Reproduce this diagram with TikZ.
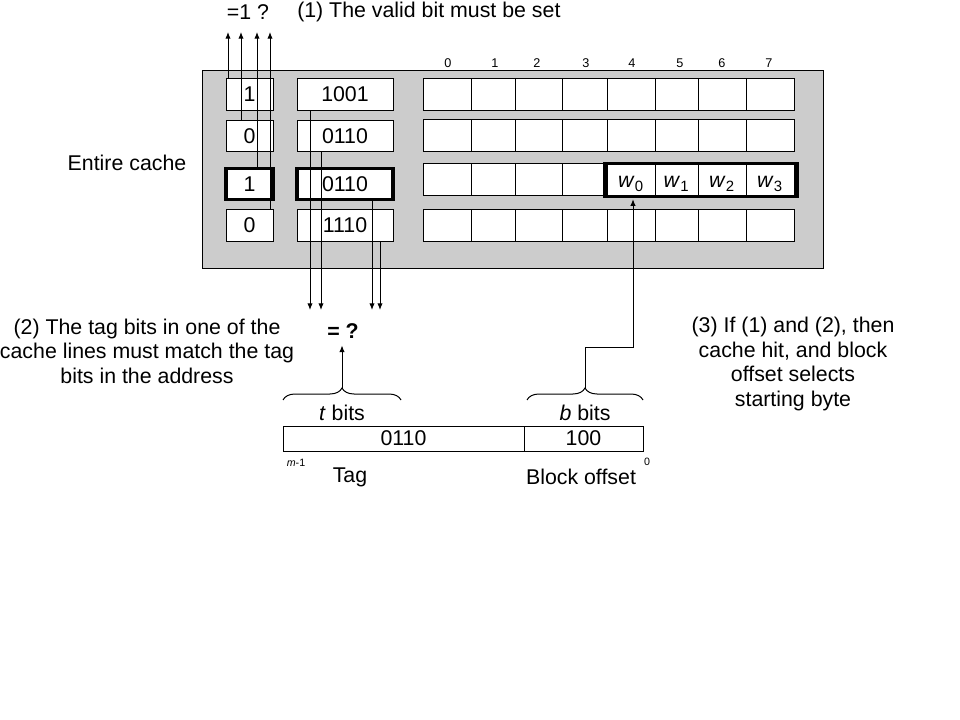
\documentclass[tikz,border=0pt]{standalone}
\usepackage{fontspec}
\setmainfont{Liberation Sans}
\usetikzlibrary{arrows.meta,decorations.pathreplacing}
\definecolor{cachegray}{RGB}{204,204,204}

\begin{document}
\begin{tikzpicture}[x=0.75pt,y=-0.75pt,
    lbl/.style={font=\fontsize{16}{18.4}\selectfont},
    bitbox/.style={draw,fill=white,line width=0.75pt,minimum height=23.6pt,inner sep=0pt,font=\fontsize{16}{18}\selectfont},
    hitbox/.style={bitbox,line width=2.5pt},
    cell/.style={draw,fill=white,line width=0.75pt,minimum height=24pt,inner sep=0pt},
    arr/.style={-{Latex[length=5pt,width=4pt]},line width=0.75pt},
    num/.style={font=\fontsize{9.5}{11}\selectfont}]
    \useasboundingbox (0,0) rectangle (960,720);

    % Cache
    \draw[fill=cachegray, line width=0.75pt] (202,71) rectangle (823,269);
    \node[lbl] (entire) at (127,163) {Entire cache};

    % Valid bits and tags
    \foreach \r/\y/\v/\t/\s in {1/94.5/1/1001/bitbox, 2/136/0/0110/bitbox, 3/184/1/0110/hitbox, 4/225.5/0/1110/bitbox} {
        \node[\s, minimum width=35.25pt] (v\r) at (249.5,\y) {\v};
        \node[\s, minimum width=72pt] (t\r) at (345,\y) {\t};
    }

    % Data blocks
    \foreach \r/\y in {1/94.5, 2/136, 3/180, 4/225.5}
        \foreach \k/\a/\b in {0/423/471, 1/471/515, 2/515/562, 3/562/607, 4/607/655, 5/655/698, 6/698/746, 7/746/794}
            \node[cell, minimum width={(\b-\a)*0.75pt}] (d\r\k) at ({(\a+\b)/2},\y) {};
    \foreach \k/\x in {0/448, 1/495, 2/537, 3/586, 4/632, 5/680, 6/722, 7/769}
        \node[num] (col\k) at (\x,63) {\k};

    % Words of the hit block
    \foreach \k/\j in {4/0, 5/1, 6/2, 7/3}
        \node[lbl] (w\j) at ([yshift=-3pt]d3\k.center) {\textit{w}\textsubscript{\j}};
    \draw[line width=2.5pt] ([xshift=-1.1pt]d34.north west) rectangle ([xshift=1.9pt]d37.south east);

    % (1) valid bits
    \node[lbl] (q1) at (248,12) {=1 ?};
    \node[lbl, anchor=west, inner sep=0pt] (note1) at (297,12) {(1) The valid bit must be set};
    \foreach \r/\x in {1/228, 2/241, 3/257, 4/270} {
        \coordinate (vu\r) at (\x,32);
        \draw[arr] (v\r.north -| vu\r) -- (vu\r);
    }

    % (2) tag compare
    \foreach \r/\x in {1/310, 2/321, 3/372, 4/380} {
        \coordinate (td\r) at (\x,310);
        \draw[arr] (t\r.south -| td\r) -- (td\r);
    }
    \node[lbl, font=\fontsize{16}{18.4}\selectfont\bfseries, inner sep=5pt] (eq) at (343,331) {= ?};
    \node[lbl, align=center] (note2) at (147,351) {(2) The tag bits in one of the\\cache lines must match the tag\\bits in the address};

    % Address
    \node[bitbox, minimum width=180.75pt, minimum height=18.75pt] (tagf) at (403.5,438.5) {0110};
    \node[bitbox, minimum width=89.25pt, minimum height=18.75pt] (offf) at (583.5,438.5) {100};
    \node[lbl] (tbits) at (342,413) {\textit{t} bits};
    \node[lbl] (bbits) at (585,413) {\textit{b} bits};
    \node[font=\fontsize{8}{9}\selectfont] (hi) at (296,463) {\textit{m}-1};
    \node[font=\fontsize{8}{9}\selectfont] (lo) at (647,462) {0};
    \node[lbl] (tag) at (350,477) {Tag};
    \node[lbl] (boff) at (581,477) {Block offset};

    % Braces
    \draw[line width=0.75pt, decorate, decoration={brace, amplitude=9pt}] (283,400) -- (401,400);
    \draw[line width=0.75pt, decorate, decoration={brace, amplitude=9pt}] (527,400) -- (643,400);
    \coordinate (ttip) at (342,388);
    \coordinate (btip) at (585,388);
    \coordinate (bend) at (585,347);
    \draw[arr] (ttip) -- (ttip |- eq.south);
    \draw[arr] (btip) -- (bend) -| ([xshift=1.5pt,yshift=-2pt]d34.south);

    % (3) hit
    \node[lbl, align=center] (note3) at (793,364) {(3) If (1) and (2), then\\cache hit, and block\\offset selects\\starting byte};
\end{tikzpicture}
\end{document}
